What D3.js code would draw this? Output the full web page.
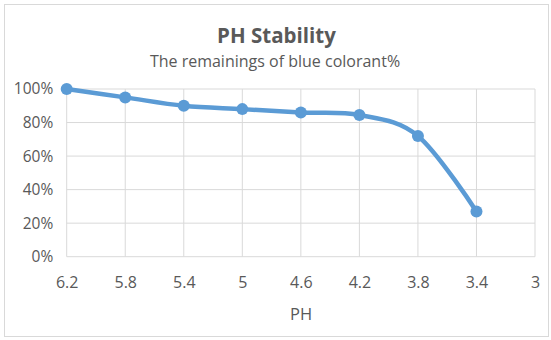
<!DOCTYPE html>
<html>
<head>
<meta charset="utf-8">
<script src="https://cdn.jsdelivr.net/npm/d3@7"></script>
<style>
  body { margin: 0; background: #fff; }
  text { font-family: "Open Sans", sans-serif; fill: #595959; }
</style>
</head>
<body>
<svg id="chart"></svg>
<script>
const width = 551;
const height = 340;
const margin = { top: 89, right: 16, bottom: 83.3, left: 66.7 };

// data
const phValues = [6.2, 5.8, 5.4, 5, 4.6, 4.2, 3.8, 3.4];
const remaining = [1.0, 0.95, 0.90, 0.88, 0.86, 0.845, 0.72, 0.27];
const xTicks = [6.2, 5.8, 5.4, 5, 4.6, 4.2, 3.8, 3.4, 3];
const yTicks = [0, 0.2, 0.4, 0.6, 0.8, 1.0];

const data = phValues.map((p, i) => ({ ph: p, value: remaining[i] }));

const svg = d3.select("#chart").attr("width", width).attr("height", height);

// chart frame
svg.append("rect")
  .attr("x", 4.5).attr("y", 4.5)
  .attr("width", 544).attr("height", 332)
  .attr("fill", "#fff")
  .attr("stroke", "#d9d9d9");

const x = d3.scaleLinear()
  .domain([6.2, 3])
  .range([margin.left, width - margin.right]);

const y = d3.scaleLinear()
  .domain([0, 1])
  .range([height - margin.bottom, margin.top]);

// gridlines
svg.append("g")
  .selectAll("line.v")
  .data(xTicks)
  .join("line")
  .attr("x1", (d) => x(d)).attr("x2", (d) => x(d))
  .attr("y1", y(0)).attr("y2", y(1))
  .attr("stroke", "#d9d9d9");

svg.append("g")
  .selectAll("line.h")
  .data(yTicks)
  .join("line")
  .attr("x1", x(6.2)).attr("x2", x(3))
  .attr("y1", (d) => y(d)).attr("y2", (d) => y(d))
  .attr("stroke", "#d9d9d9");

// axes (labels only)
const xAxis = d3.axisBottom(x)
  .tickValues(xTicks)
  .tickFormat(d3.format("~g"))
  .tickSize(0)
  .tickPadding(19.5);

const yAxis = d3.axisLeft(y)
  .tickValues(yTicks)
  .tickFormat(d3.format(".0%"))
  .tickSize(0)
  .tickPadding(13.5);

const gx = svg.append("g")
  .attr("transform", `translate(0,${y(0)})`)
  .call(xAxis);
gx.select(".domain").remove();
gx.selectAll("text").attr("font-size", 16).attr("font-family", null);

const gy = svg.append("g")
  .attr("transform", `translate(${x(6.2)},0)`)
  .call(yAxis);
gy.select(".domain").remove();
gy.selectAll("text").attr("font-size", 15.5).attr("font-family", null);

// line (Excel-style smoothing)
const line = d3.line()
  .x((d) => x(d.ph))
  .y((d) => y(d.value))
  .curve(d3.curveCardinal.tension(0));

svg.append("path")
  .datum(data)
  .attr("d", line)
  .attr("fill", "none")
  .attr("stroke", "#5b9bd5")
  .attr("stroke-width", 4.5)
  .attr("stroke-linejoin", "round");

svg.append("g")
  .selectAll("circle")
  .data(data)
  .join("circle")
  .attr("cx", (d) => x(d.ph))
  .attr("cy", (d) => y(d.value))
  .attr("r", 6)
  .attr("fill", "#5b9bd5");

// titles
svg.append("text")
  .attr("x", 276.5).attr("y", 43.3)
  .attr("text-anchor", "middle")
  .attr("font-size", 20.5)
  .attr("font-weight", "bold")
  .text("PH Stability");

svg.append("text")
  .attr("x", 275).attr("y", 66.5)
  .attr("text-anchor", "middle")
  .attr("font-size", 16)
  .text("The remainings of blue colorant%");

svg.append("text")
  .attr("x", 301).attr("y", 320)
  .attr("text-anchor", "middle")
  .attr("font-size", 16.5)
  .text("PH");
</script>
</body>
</html>
